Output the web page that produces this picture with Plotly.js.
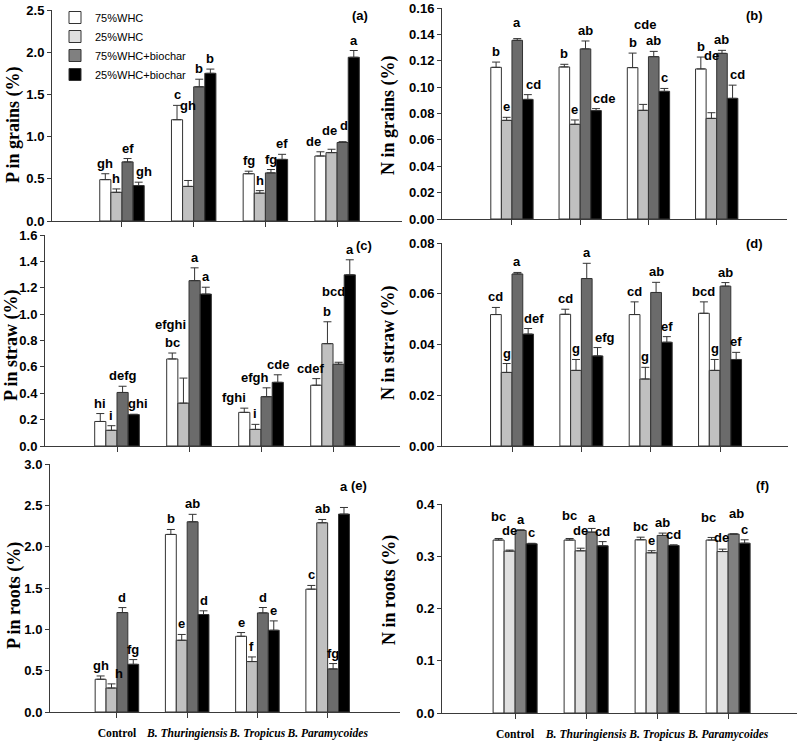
<!DOCTYPE html>
<html><head><meta charset="utf-8">
<script src="https://cdn.plot.ly/plotly-3.0.1.min.js"></script>
<style>body{margin:0;background:#fff}#chart{width:800px;height:744px}</style>
</head><body><div id="chart"></div>
<script>
// ---------- data ----------
const categories = ['Control', 'B. Thuringiensis', 'B. Tropicus', 'B. Paramycoides'];
const tickLabels = ['Control', '<i>B. Thuringiensis</i>', '<i>B. Tropicus</i>', '<i>B. Paramycoides</i>'];
const seriesNames = ['75%WHC', '25%WHC', '75%WHC+biochar', '25%WHC+biochar'];

// rows: series (75%WHC, 25%WHC, 75%WHC+biochar, 25%WHC+biochar); columns: categories
// (a) P in grains (%)
const pGrainsMean = [[0.49, 1.20, 0.56, 0.77], [0.34, 0.41, 0.33, 0.81], [0.70, 1.59, 0.57, 0.93], [0.42, 1.75, 0.73, 1.94]];
const pGrainsErr  = [[0.07, 0.17, 0.03, 0.05], [0.04, 0.07, 0.03, 0.04], [0.04, 0.09, 0.04, 0.01], [0.04, 0.05, 0.06, 0.08]];
const pGrainsLetters = [['gh', 'c', 'fg', 'de'], ['h', 'gh', 'h', 'de'], ['ef', 'b', 'fg', 'd'], ['gh', 'b', 'ef', 'a']];

// (b) N in grains (%)
const nGrainsMean = [[0.115, 0.1153, 0.1148, 0.1138], [0.0748, 0.0718, 0.0824, 0.0763], [0.1355, 0.129, 0.1231, 0.1256], [0.0907, 0.0822, 0.0968, 0.0915]];
const nGrainsErr  = [[0.004, 0.002, 0.011, 0.009], [0.0023, 0.0033, 0.0045, 0.0043], [0.0013, 0.006, 0.004, 0.0023], [0.0036, 0.0015, 0.0022, 0.010]];
const nGrainsLetters = [['b', 'b', 'b', 'b'], ['e', 'e', 'cde', 'de'], ['a', 'ab', 'ab', 'ab'], ['cd', 'cde', 'c', 'cd']];

// (c) P in straw (%)
const pStrawMean = [[0.186, 0.66, 0.255, 0.461], [0.119, 0.325, 0.126, 0.776], [0.406, 1.254, 0.374, 0.62], [0.238, 1.152, 0.483, 1.298]];
const pStrawErr  = [[0.06, 0.045, 0.032, 0.05], [0.035, 0.19, 0.038, 0.166], [0.047, 0.097, 0.067, 0.015], [0.003, 0.052, 0.057, 0.114]];
const pStrawLetters = [['hi', 'bc', 'fghi', 'cdef'], ['i', 'efghi', 'i', 'b'], ['defg', 'a', 'efgh', 'bcd'], ['ghi', 'a', 'cde', 'a']];

// (d) N in straw (%)
const nStrawMean = [[0.0518, 0.0519, 0.0518, 0.0523], [0.029, 0.0298, 0.0264, 0.0298], [0.0678, 0.066, 0.0605, 0.063], [0.0441, 0.0355, 0.0409, 0.0341]];
const nStrawErr  = [[0.0028, 0.002, 0.005, 0.0045], [0.0035, 0.0043, 0.0046, 0.0043], [0.0006, 0.006, 0.004, 0.0014], [0.0022, 0.0033, 0.0022, 0.0028]];
const nStrawLetters = [['cd', 'cd', 'cd', 'bcd'], ['g', 'g', 'g', 'g'], ['a', 'a', 'ab', 'ab'], ['def', 'efg', 'ef', 'ef']];

// (e) P in roots (%)
const pRootsMean = [[0.396, 2.148, 0.916, 1.486], [0.29, 0.868, 0.61, 2.289], [1.203, 2.301, 1.199, 0.521], [0.577, 1.179, 0.989, 2.394]];
const pRootsErr  = [[0.04, 0.06, 0.045, 0.045], [0.05, 0.07, 0.056, 0.04], [0.06, 0.09, 0.065, 0.065], [0.057, 0.045, 0.113, 0.08]];
const pRootsLetters = [['gh', 'b', 'e', 'c'], ['h', 'e', 'f', 'ab'], ['d', 'ab', 'd', 'fg'], ['fg', 'd', 'e', 'a']];

// (f) N in roots (%)
const nRootsMean = [[0.331, 0.331, 0.3315, 0.331], [0.3098, 0.3104, 0.3066, 0.309], [0.3494, 0.3462, 0.3398, 0.3424], [0.3238, 0.32, 0.3206, 0.325]];
const nRootsErr  = [[0.003, 0.003, 0.005, 0.005], [0.002, 0.005, 0.004, 0.0046], [0.0013, 0.007, 0.0045, 0.0005], [0.001, 0.008, 0.0013, 0.0065]];
const nRootsLetters = [['bc', 'bc', 'bc', 'bc'], ['de', 'de', 'e', 'de'], ['a', 'a', 'ab', 'ab'], ['c', 'cd', 'cd', 'c']];

// ---------- styling / layout ----------
const W = 800, H = 744;
const px = v => v / W;
const py = v => 1 - v / H;
const BARGAP = 0.38;
const barW = (1 - BARGAP) / 4;
const colorsMain = ['#ffffff', '#c0c0c0', '#6b6b6b', '#000000'];
const colorsF = ['#ffffff', '#e0e0e0', '#808080', '#000000'];

// label placement tweaks: key 'series,category' -> {y (data), dx, dy (px)}
const tweaks = {
  a: {'1,1': {y: 1.24}, '3,0': {dx: 5}, '0,3': {dx: -7}, '1,3': {dy: 8, dx: -2}, '2,3': {dy: 6, dx: 1}},
  b: {'3,0': {dx: 6}, '3,1': {dx: 8}, '3,3': {dx: 5}, '1,2': {y: 0.1395, dx: 2}, '1,3': {y: 0.116}, '2,0': {dy: 6}},
  c: {'1,1': {y: 0.84, dx: -13}, '0,2': {dx: -10}, '2,2': {dx: -12}, '0,3': {dx: -6}, '2,3': {y: 1.094, dx: -5}, '3,0': {dx: 4}},
  d: {'3,0': {dx: 6}, '3,1': {dx: 8}},
  e: {'1,0': {dx: 8}, '3,3': {dy: 10}},
  f: {'0,0': {dy: 11}, '1,0': {dy: 9}, '0,1': {dy: 12}, '1,1': {dy: 7}, '0,3': {dy: 9, dx: -3}, '1,3': {dy: 1, dx: -1}, '2,3': {dy: 10, dx: 3}}
};

const panels = [
  {id: 'a', mean: pGrainsMean, err: pGrainsErr, letters: pGrainsLetters, title: 'P in grains (%)',
   x: [52, 402], xr: [-0.976, 3.905], y: [10, 221], yr: [0, 2.5], dtick: 0.5, fmt: '.1f', labels: false,
   titlePos: [14, 125], tag: [360, 16], colors: colorsMain},
  {id: 'b', mean: nGrainsMean, err: nGrainsErr, letters: nGrainsLetters, title: 'N in grains (%)',
   x: [442, 787], xr: [-1.025, 4.03], y: [8, 219], yr: [0, 0.16], dtick: 0.02, fmt: '.2f', labels: false,
   titlePos: [389, 115], tag: [754, 16], colors: colorsMain},
  {id: 'c', mean: pStrawMean, err: pStrawErr, letters: pStrawLetters, title: 'P in straw (%)',
   x: [45, 400], xr: [-1.0, 3.93], y: [235, 446], yr: [0, 1.6], dtick: 0.2, fmt: '.1f', labels: false,
   titlePos: [12, 345], tag: [364, 246], colors: colorsMain},
  {id: 'd', mean: nStrawMean, err: nStrawErr, letters: nStrawLetters, title: 'N in straw (%)',
   x: [442, 788], xr: [-1.01, 3.98], y: [243, 446], yr: [0, 0.08], dtick: 0.02, fmt: '.2f', labels: false,
   titlePos: [389, 343], tag: [754, 244], colors: colorsMain},
  {id: 'e', mean: pRootsMean, err: pRootsErr, letters: pRootsLetters, title: 'P in roots (%)',
   x: [50, 400], xr: [-0.953, 4.03], y: [464, 712], yr: [0, 3.0], dtick: 0.5, fmt: '.1f', labels: true,
   titlePos: [14, 596], tag: [359, 485], colors: colorsMain},
  {id: 'f', mean: nRootsMean, err: nRootsErr, letters: nRootsLetters, title: 'N in roots (%)',
   x: [442, 797], xr: [-1.03, 3.97], y: [504, 713], yr: [0, 0.4], dtick: 0.1, fmt: '.1f', labels: true,
   titlePos: [389, 590], tag: [762, 485], colors: colorsF}
];

const axisColor = '#3a3a3a';
const traces = [];
const annotations = [];
const layout = {
  width: W, height: H,
  margin: {l: 0, r: 0, t: 0, b: 0},
  paper_bgcolor: '#fff', plot_bgcolor: '#fff',
  barmode: 'group', bargap: BARGAP, bargroupgap: 0,
  showlegend: true,
  legend: {x: px(55), y: py(3), xanchor: 'left', yanchor: 'top', bgcolor: 'rgba(0,0,0,0)',
           font: {family: 'Liberation Sans, Arial, sans-serif', size: 11, color: '#000'},
           tracegroupgap: 0, itemclick: false, itemdoubleclick: false},
  font: {family: 'Liberation Sans, Arial, sans-serif', color: '#000'}
};

const xIdx = categories.map((c, i) => i);

panels.forEach((p, k) => {
  const n = k + 1;
  const xa = 'x' + (n === 1 ? '' : n);
  const ya = 'y' + (n === 1 ? '' : n);
  const xKey = 'xaxis' + (n === 1 ? '' : n);
  const yKey = 'yaxis' + (n === 1 ? '' : n);

  layout[xKey] = {
    domain: [px(p.x[0]), px(p.x[1])], range: p.xr, anchor: ya,
    tickmode: 'array', tickvals: xIdx, ticktext: p.labels ? tickLabels : xIdx.map(() => ''),
    ticks: 'outside', ticklen: 5, tickcolor: axisColor, tickwidth: 1, tickangle: 0,
    showline: true, linecolor: axisColor, linewidth: 1,
    showgrid: false, zeroline: false, fixedrange: true, ticklabelstandoff: 5,
    tickfont: {family: 'Liberation Serif, Times New Roman, serif', size: 11.6, weight: 'bold', color: '#000'}
  };
  layout[yKey] = {
    domain: [py(p.y[1]), py(p.y[0])], range: p.yr, anchor: xa,
    tickmode: 'linear', tick0: 0, dtick: p.dtick, tickformat: p.fmt,
    ticks: 'outside', ticklen: 4, tickcolor: axisColor, tickwidth: 1,
    showline: true, linecolor: axisColor, linewidth: 1,
    showgrid: false, zeroline: false, fixedrange: true,
    tickfont: {family: 'Liberation Sans, Arial, sans-serif', size: 13, weight: 'bold', color: '#000'}
  };

  seriesNames.forEach((name, s) => {
    traces.push({
      type: 'bar', name: name, x: xIdx, y: p.mean[s], xaxis: xa, yaxis: ya,
      showlegend: p.id === 'f', legendrank: s,
      marker: {color: p.colors[s], line: {color: '#333', width: 1}},
      error_y: {type: 'data', symmetric: false, array: p.err[s], arrayminus: p.err[s].map(() => 0),
                color: '#333', thickness: 1, width: 4},
      hoverinfo: 'skip'
    });
    p.letters[s].forEach((txt, c) => {
      const tw = (tweaks[p.id] || {})[s + ',' + c] || {};
      annotations.push({
        xref: xa, yref: ya, x: c + (s - 1.5) * barW,
        y: tw.y !== undefined ? tw.y : p.mean[s][c] + p.err[s][c],
        xanchor: 'center', yanchor: 'bottom', showarrow: false,
        xshift: tw.dx || 0, yshift: 1 + (tw.dy || 0),
        text: txt,
        font: {family: 'Liberation Sans, Arial, sans-serif', size: 13, weight: 'bold', color: '#000'}
      });
    });
  });

  // y-axis title
  annotations.push({
    xref: 'paper', yref: 'paper', x: px(p.titlePos[0]), y: py(p.titlePos[1]),
    xanchor: 'center', yanchor: 'middle', showarrow: false, textangle: -90,
    text: p.title,
    font: {family: 'Liberation Serif, Times New Roman, serif', size: 18, weight: 'bold', color: '#000'}
  });
  // panel tag
  annotations.push({
    xref: 'paper', yref: 'paper', x: px(p.tag[0]), y: py(p.tag[1]),
    xanchor: 'center', yanchor: 'middle', showarrow: false,
    text: '(' + p.id + ')',
    font: {family: 'Liberation Sans, Arial, sans-serif', size: 13, weight: 'bold', color: '#000'}
  });
});

layout.annotations = annotations;
Plotly.newPlot('chart', traces, layout, {displayModeBar: false, staticPlot: true});
</script>
</body></html>
